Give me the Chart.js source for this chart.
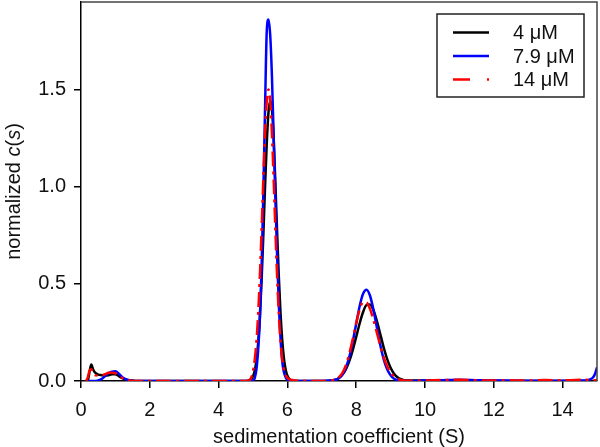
<!DOCTYPE html>
<html lang="en">
<head>
<meta charset="UTF-8">
<title>Normalized c(s) distributions</title>
<script src="https://cdn.jsdelivr.net/npm/chart.js"></script>
<style>
    body {
        margin: 0;
        background: #fff;
    }
    #chartContainer {
        width: 600px;
        height: 447px;
    }
</style>
</head>
<body>

<div id="chartContainer">
    <canvas id="chartCanvas" width="600" height="447"></canvas>
</div>

<script>
    // sedimentation coefficient grid (S), denser around the peaks
    const sValues = [
        0.15, 0.2, 0.25, 0.3, 0.35, 0.4, 0.5, 0.6, 0.7, 0.8, 0.9, 1.0, 1.1, 1.2, 1.3, 1.4, 1.5, 1.6,
        2, 3, 4, 4.8,
        4.85, 4.9, 4.95, 5.0, 5.05, 5.1, 5.15, 5.2, 5.25, 5.3, 5.35, 5.4, 5.45, 5.5, 5.55, 5.6,
        5.65, 5.7, 5.75, 5.8, 5.85, 5.9, 5.95, 6.0, 6.05, 6.1, 6.2,
        6.4, 7.0,
        7.4, 7.5, 7.6, 7.7, 7.8, 7.9, 8.0, 8.1, 8.2, 8.3, 8.4, 8.5, 8.6, 8.7, 8.8, 8.9, 9.0,
        9.1, 9.2, 9.3, 9.4, 9.5,
        10, 10.5, 11, 11.5, 12, 13, 13.5, 14, 14.5, 14.7, 14.8, 14.9, 14.95, 15
    ];

    // 4 uM
    const cs4uM = [
        0, 0.005, 0.05, 0.085, 0.06, 0.045, 0.033, 0.03, 0.028, 0.03, 0.035, 0.035, 0.025, 0.015, 0.008, 0.004, 0.002, 0,
        0, 0, 0, 0,
        0.001, 0.004, 0.010, 0.024, 0.053, 0.106, 0.195, 0.331, 0.519, 0.749, 0.998, 1.223, 1.382, 1.44, 1.40, 1.25,
        1.02, 0.77, 0.54, 0.35, 0.21, 0.115, 0.058, 0.027, 0.012, 0.005, 0.001,
        0, 0,
        0.007, 0.016, 0.033, 0.060, 0.102, 0.159, 0.227, 0.296, 0.355, 0.391, 0.394, 0.365, 0.309, 0.241, 0.172, 0.113, 0.068,
        0.037, 0.019, 0.009, 0.004, 0.002,
        0.002, 0.003, 0.004, 0.003, 0.001, 0, 0, 0, 0, 0, 0, 0, 0, 0
    ];

    // 7.9 uM
    const cs79uM = [
        0, 0, 0, 0, 0, 0, 0.003, 0.01, 0.025, 0.04, 0.048, 0.05, 0.038, 0.02, 0.009, 0.004, 0.001, 0,
        0, 0, 0, 0,
        0, 0, 0.001, 0.003, 0.015, 0.06, 0.16, 0.32, 0.58, 0.96, 1.40, 1.80, 1.86, 1.78, 1.57, 1.26,
        0.95, 0.65, 0.40, 0.22, 0.10, 0.045, 0.018, 0.006, 0.002, 0.001, 0,
        0, 0,
        0.006, 0.015, 0.033, 0.068, 0.124, 0.202, 0.295, 0.385, 0.449, 0.47, 0.440, 0.368, 0.276, 0.185, 0.111, 0.060, 0.029,
        0.012, 0.005, 0.002, 0.001, 0,
        0.002, 0.004, 0.006, 0.004, 0.002, 0.001, 0.001, 0.001, 0.002, 0.003, 0.008, 0.022, 0.04, 0.07
    ];

    // 14 uM
    const cs14uM = [
        0, 0.02, 0.055, 0.06, 0.04, 0.03, 0.028, 0.03, 0.035, 0.042, 0.043, 0.04, 0.028, 0.015, 0.007, 0.003, 0.001, 0,
        0, 0, 0, 0,
        0.001, 0.005, 0.018, 0.05, 0.11, 0.203, 0.345, 0.541, 0.78, 1.04, 1.274, 1.44, 1.50, 1.44, 1.274, 1.04,
        0.78, 0.541, 0.345, 0.203, 0.11, 0.058, 0.03, 0.016, 0.009, 0.006, 0.003,
        0.001, 0,
        0.008, 0.020, 0.042, 0.081, 0.140, 0.216, 0.298, 0.368, 0.406, 0.404, 0.371, 0.316, 0.249, 0.181, 0.122, 0.076, 0.044,
        0.024, 0.012, 0.005, 0.002, 0.001,
        0.002, 0.005, 0.006, 0.004, 0.002, 0.002, 0.005, 0.003, 0.006, 0.006, 0.005, 0.004, 0.004, 0.004
    ];

    const seriesLabels = ['4 μM', '7.9 μM', '14 μM'];
    const seriesColors = ['#000000', '#0000ff', '#ff0000'];
    const xTicks = [0, 2, 4, 6, 8, 10, 12, 14];
    const yTicks = [0, 0.5, 1.0, 1.5];

    const FONT = '"Liberation Sans", Arial, sans-serif';
    const FONT_SIZE = 20;

    function toPoints(ys) {
        return sValues.map((s, i) => ({ x: s, y: ys[i] }));
    }

    // top + right frame, custom boxed legend, y title with italic c(s)
    const decorations = {
        id: 'decorations',
        afterDraw(chart) {
            const ctx = chart.ctx;
            const area = chart.chartArea;
            ctx.save();

            // frame
            ctx.strokeStyle = '#444';
            ctx.lineWidth = 1.5;
            ctx.beginPath();
            ctx.moveTo(area.left, area.top);
            ctx.lineTo(area.right, area.top);
            ctx.lineTo(area.right, area.bottom);
            ctx.stroke();

            // legend box
            const box = { left: area.right - 160, top: area.top + 12, w: 147, h: 83 };
            ctx.strokeStyle = '#222';
            ctx.lineWidth = 1.5;
            ctx.strokeRect(box.left, box.top, box.w, box.h);

            const rows = [18.5, 42, 65.5];
            const dashes = [[], [], [17, 17, 3]];
            ctx.font = FONT_SIZE + 'px ' + FONT;
            ctx.textBaseline = 'middle';
            ctx.textAlign = 'left';
            rows.forEach((dy, i) => {
                const y = box.top + dy;
                ctx.strokeStyle = seriesColors[i];
                ctx.lineWidth = 2.5;
                ctx.setLineDash(dashes[i]);
                ctx.beginPath();
                ctx.moveTo(box.left + 16, y);
                ctx.lineTo(box.left + 52, y);
                ctx.stroke();
                ctx.setLineDash([]);
                ctx.fillStyle = '#111';
                ctx.fillText(seriesLabels[i], box.left + 76, y + 1);
            });

            // y axis title: normalized c(s)
            const parts = [
                ['normalized ', ''],
                ['c', 'italic '],
                ['(', ''],
                ['s', 'italic '],
                [')', '']
            ];
            let total = 0;
            parts.forEach(p => {
                ctx.font = p[1] + FONT_SIZE + 'px ' + FONT;
                total += ctx.measureText(p[0]).width;
            });
            ctx.translate(14, (area.top + area.bottom) / 2);
            ctx.rotate(-Math.PI / 2);
            ctx.fillStyle = '#111';
            let x = -total / 2;
            parts.forEach(p => {
                ctx.font = p[1] + FONT_SIZE + 'px ' + FONT;
                ctx.fillText(p[0], x, 0);
                x += ctx.measureText(p[0]).width;
            });

            ctx.restore();
        }
    };

    const ctx = document.getElementById('chartCanvas').getContext('2d');
    const chart = new Chart(ctx, {
        type: 'line',
        data: {
            datasets: [
                {
                    label: seriesLabels[0],
                    data: toPoints(cs4uM),
                    borderColor: seriesColors[0],
                    borderWidth: 2.5,
                    order: 2
                },
                {
                    label: seriesLabels[1],
                    data: toPoints(cs79uM),
                    borderColor: seriesColors[1],
                    borderWidth: 2.5,
                    order: 1
                },
                {
                    label: seriesLabels[2],
                    data: toPoints(cs14uM),
                    borderColor: seriesColors[2],
                    borderWidth: 2.5,
                    borderDash: [15, 5, 3, 5],
                    order: 0
                }
            ]
        },
        options: {
            responsive: false,
            animation: false,
            devicePixelRatio: 1,
            elements: {
                point: { radius: 0 },
                line: { fill: false, cubicInterpolationMode: 'monotone' }
            },
            layout: {
                padding: { top: 2, right: 3, left: 0, bottom: 0 }
            },
            plugins: {
                legend: { display: false },
                tooltip: { enabled: false }
            },
            scales: {
                x: {
                    type: 'linear',
                    min: 0,
                    max: 15,
                    afterBuildTicks: scale => { scale.ticks = xTicks.map(v => ({ value: v })); },
                    afterFit: scale => {
                        scale.height = 66;
                        scale.paddingLeft = 0;
                        scale.paddingRight = 0;
                    },
                    grid: {
                        drawOnChartArea: false,
                        drawTicks: true,
                        tickLength: 7,
                        color: '#000',
                        lineWidth: 1.5
                    },
                    border: { display: true, color: '#000', width: 1.5 },
                    ticks: {
                        padding: 10,
                        color: '#111',
                        maxRotation: 0,
                        font: { family: FONT, size: FONT_SIZE }
                    },
                    title: {
                        display: true,
                        text: 'sedimentation coefficient (S)',
                        color: '#111',
                        padding: { top: 0, bottom: -2 },
                        font: { family: FONT, size: FONT_SIZE }
                    }
                },
                y: {
                    min: 0,
                    max: 1.95,
                    afterBuildTicks: scale => { scale.ticks = yTicks.map(v => ({ value: v })); },
                    afterFit: scale => {
                        scale.width = 81;
                        scale.paddingTop = 0;
                        scale.paddingBottom = 0;
                    },
                    grid: {
                        drawOnChartArea: false,
                        drawTicks: true,
                        tickLength: 7,
                        color: '#000',
                        lineWidth: 1.5
                    },
                    border: { display: true, color: '#000', width: 1.5 },
                    ticks: {
                        padding: 8,
                        color: '#111',
                        font: { family: FONT, size: FONT_SIZE },
                        callback: v => v.toFixed(1)
                    }
                }
            }
        },
        plugins: [decorations]
    });
</script>

</body>
</html>
